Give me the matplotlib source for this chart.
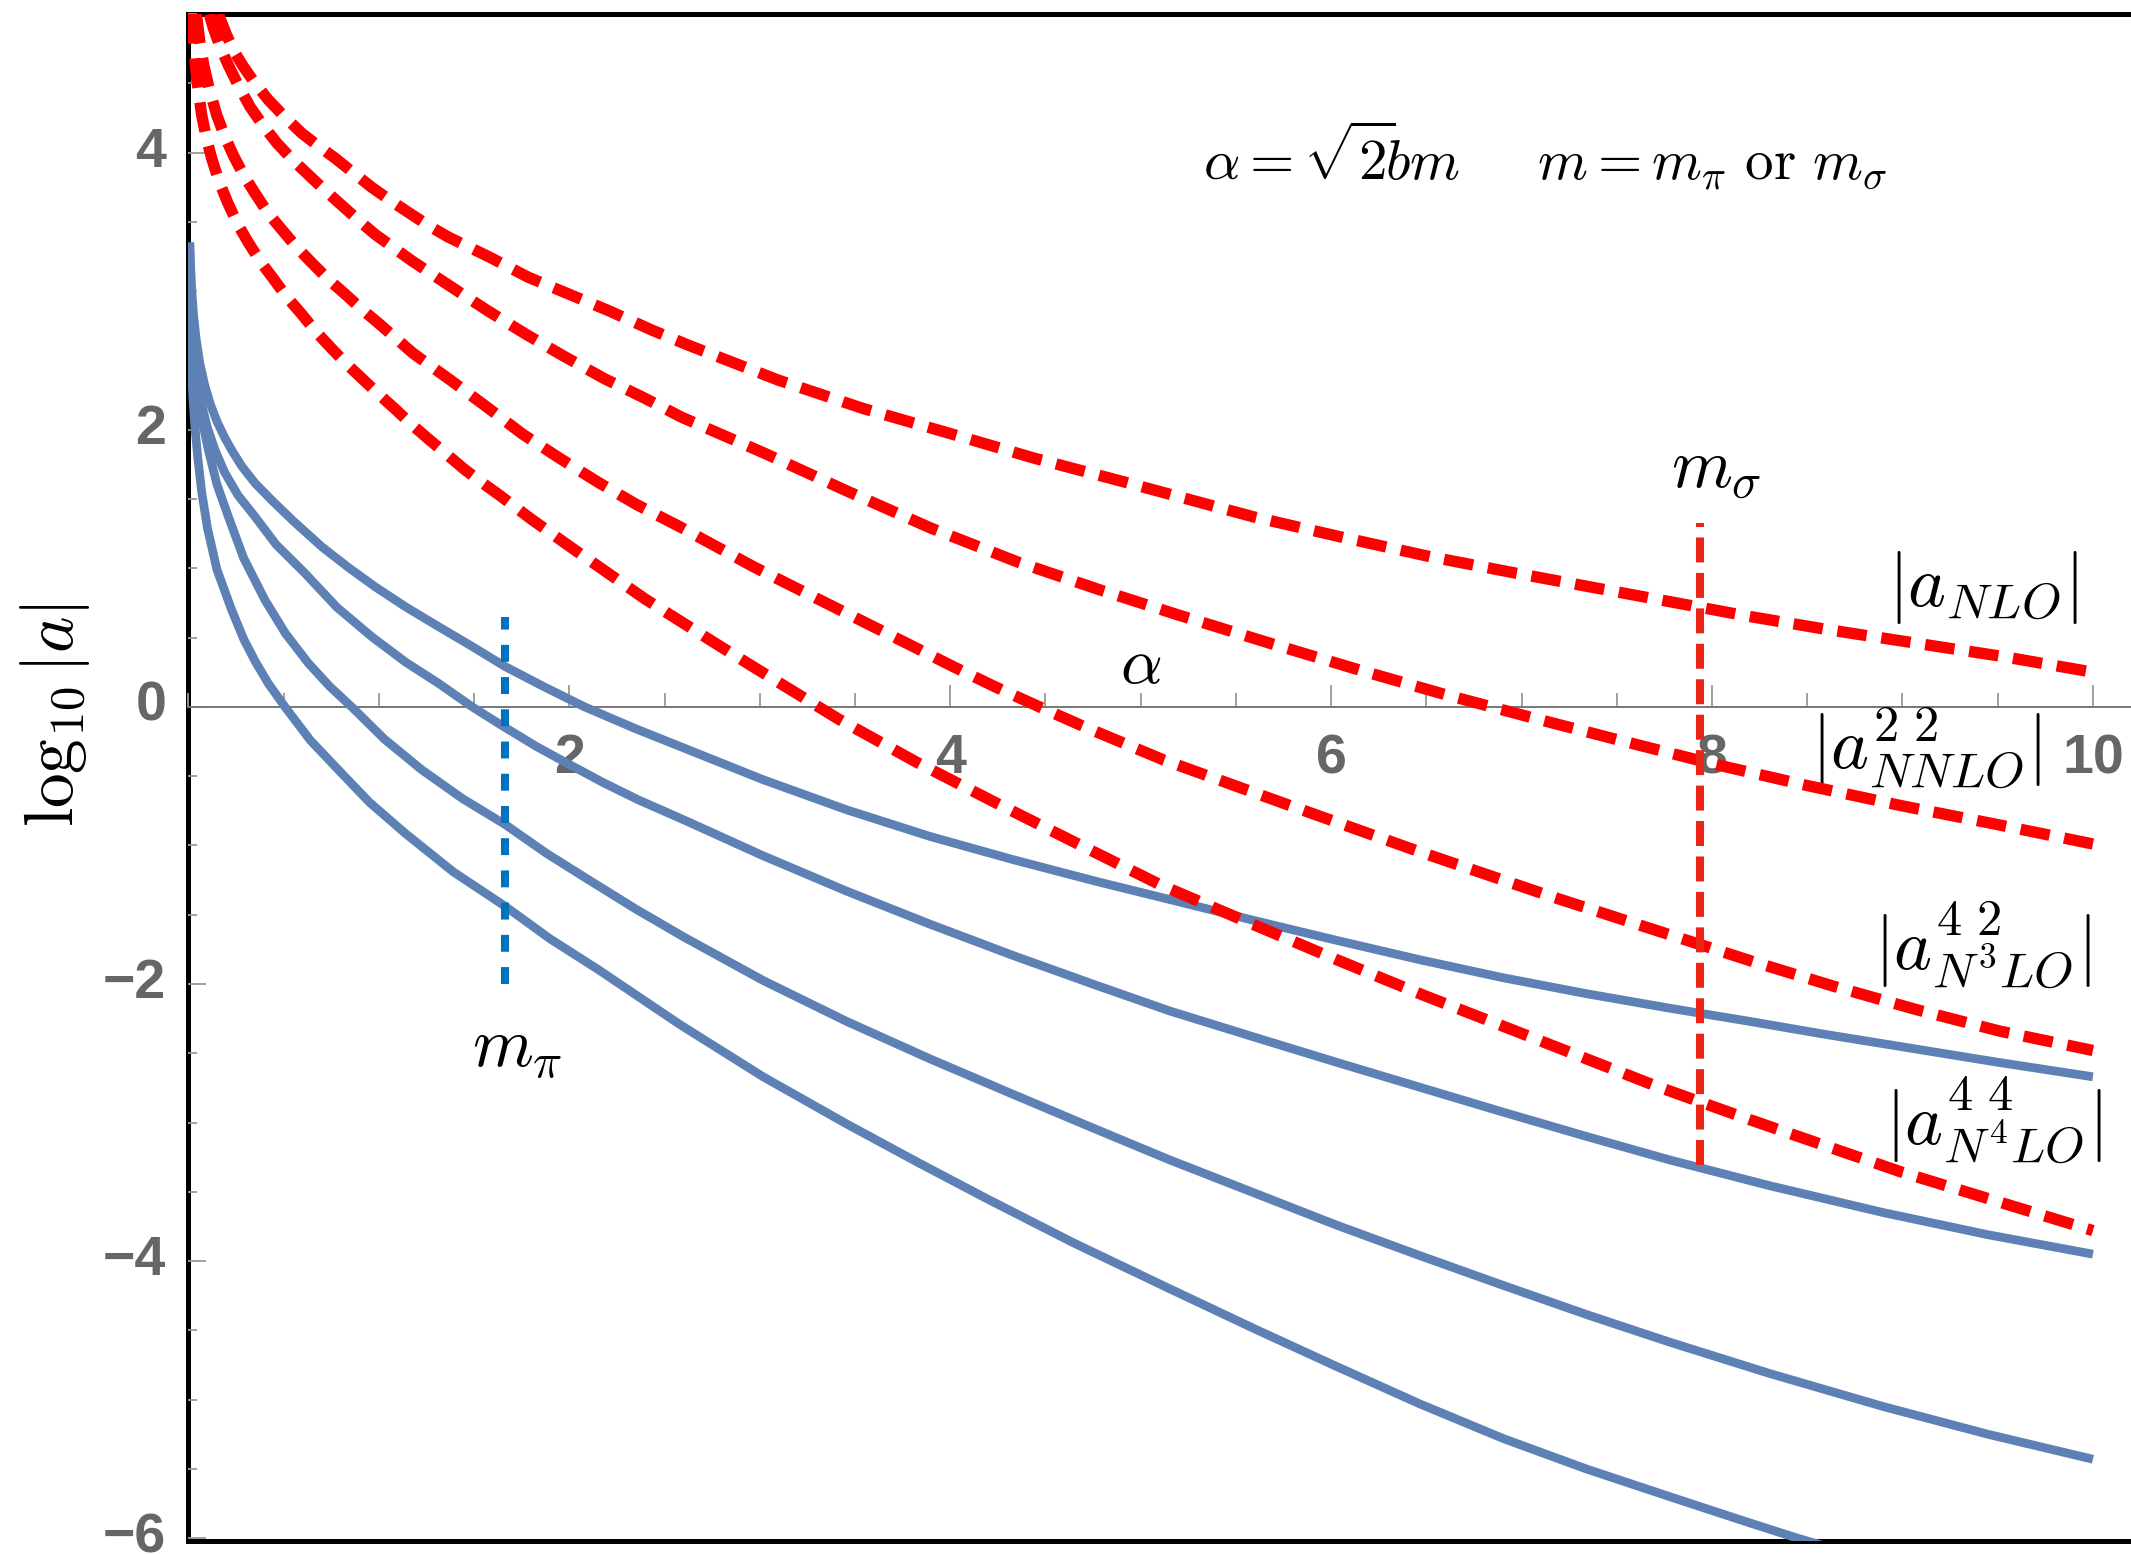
import matplotlib
matplotlib.use("Agg")
import matplotlib.pyplot as plt
from matplotlib.ticker import MultipleLocator

plt.rcParams['mathtext.fontset'] = 'cm'

# log10|a| of the higher-order coefficients (red, dashed) against alpha
nlo_x = [0.157, 0.2, 0.24, 0.289, 0.35, 0.42, 0.5, 0.595, 0.68, 0.77, 0.87, 0.962, 1.06,
         1.164, 1.265, 1.365, 1.47, 1.575, 1.785, 1.995, 2.205, 2.432, 2.625, 3.097, 3.543,
         3.998, 4.445, 4.908, 5.59, 6.045, 6.518, 6.973, 7.445, 7.778, 8.198, 8.618,
         9.073, 9.528, 10.0]
nlo_y = [5.0, 4.85, 4.73, 4.62, 4.50, 4.38, 4.265, 4.14, 4.05, 3.96, 3.85, 3.75, 3.655,
         3.56, 3.47, 3.39, 3.32, 3.25, 3.10, 2.98, 2.86, 2.72, 2.61, 2.358, 2.153,
         1.973, 1.793, 1.625, 1.372, 1.228, 1.084, 0.964, 0.844, 0.759, 0.652, 0.555,
         0.459, 0.363, 0.25]

nnlo_x = [0.11, 0.131, 0.165, 0.21, 0.26, 0.324, 0.39, 0.464, 0.545, 0.63, 0.715, 0.805,
          0.89, 0.98, 1.172, 1.37, 1.57, 1.771, 1.972, 2.182, 2.392, 2.59, 3.027, 3.465,
          3.902, 4.349, 4.786, 5.2, 5.7, 6.15, 6.6, 7.06, 7.5, 8.0, 8.5, 9.0, 9.5, 10.0]
nnlo_y = [5.0, 4.90, 4.77, 4.63, 4.49, 4.33, 4.20, 4.07, 3.95, 3.84, 3.73, 3.62,
          3.515, 3.41, 3.22, 3.04, 2.86, 2.69, 2.53, 2.37, 2.23, 2.09, 1.829, 1.553,
          1.288, 1.048, 0.844, 0.662, 0.45, 0.265, 0.088, -0.08, -0.236, -0.41, -0.568,
          -0.715, -0.85, -0.99]

n3lo_x = [0.042, 0.06, 0.08, 0.11, 0.149, 0.19, 0.236, 0.29, 0.35, 0.42, 0.499, 0.57, 0.651,
          0.735, 0.822, 0.91, 0.997, 1.181, 1.374, 1.561, 1.753, 1.954, 2.152, 2.353, 2.58,
          2.966, 3.386, 3.806, 4.016, 4.243, 4.46, 4.681, 5.118, 5.783, 6.465, 7.148, 7.778,
          8.198, 8.635, 9.073, 9.51, 10.0]
n3lo_y = [5.0, 4.80, 4.635, 4.455, 4.27, 4.12, 3.98, 3.837, 3.706, 3.56, 3.43, 3.315, 3.20,
          3.084, 2.98, 2.87, 2.77, 2.55, 2.36, 2.17, 1.97, 1.79, 1.62, 1.46, 1.30,
          1.012, 0.723, 0.435, 0.29, 0.14, 0.005, -0.13, -0.382, -0.712, -1.046, -1.365, -1.645,
          -1.831, -2.015, -2.185, -2.34, -2.48]

n4lo_x = [0.0195, 0.024, 0.032, 0.045, 0.07, 0.095, 0.122, 0.16, 0.206, 0.26, 0.315, 0.38,
          0.446, 0.515, 0.591, 0.67, 0.749, 0.83, 0.919, 1.0, 1.085, 1.17, 1.263, 1.35, 1.444,
          1.535, 1.631, 1.8, 2.0, 2.396, 2.8, 3.0, 3.412, 3.824, 4.243, 4.672, 5.101, 5.59,
          6.028, 6.483, 6.95, 7.708, 8.2, 9.0, 10.0]
n4lo_y = [5.0, 4.87, 4.71, 4.52, 4.27, 4.10, 3.96, 3.794, 3.64, 3.48, 3.35, 3.21,
          3.09, 2.96, 2.84, 2.707, 2.59, 2.475, 2.36, 2.255, 2.15, 2.04, 1.93, 1.83, 1.72,
          1.625, 1.53, 1.355, 1.16, 0.78, 0.43, 0.26, -0.087, -0.40, -0.695, -0.99, -1.283, -1.57,
          -1.824, -2.08, -2.33, -2.738, -2.98, -3.36, -3.78]

# solid blue curves
b1_x = [0.008, 0.012, 0.018, 0.027, 0.04, 0.06, 0.085, 0.115, 0.15, 0.19, 0.227, 0.28, 0.35,
        0.437, 0.55, 0.7, 0.84, 0.98, 1.14, 1.312, 1.48, 1.664, 1.87, 2.08, 2.35, 2.625,
        3.018, 3.456, 3.893, 4.331, 4.768, 5.18, 5.59, 6.028, 6.465, 6.903, 7.34, 7.778,
        8.198, 8.6, 9.073, 9.5, 10.0]
b1_y = [3.35, 3.17, 3.0, 2.83, 2.66, 2.48, 2.325, 2.185, 2.06, 1.945, 1.853, 1.737, 1.614,
        1.492, 1.342, 1.156, 1.006, 0.867, 0.722, 0.58, 0.444, 0.29, 0.143, 0.0, -0.159, -0.31,
        -0.526, -0.743, -0.935, -1.103, -1.26, -1.40, -1.54, -1.685, -1.825, -1.955, -2.07,
        -2.175, -2.27, -2.365, -2.47, -2.565, -2.67]

b2_x = [0.006, 0.008, 0.011, 0.016, 0.024, 0.035, 0.05, 0.07, 0.1, 0.14, 0.19, 0.26, 0.35,
        0.46, 0.612, 0.78, 0.962, 1.14, 1.312, 1.49, 1.664, 1.83, 2.003, 2.18, 2.362, 2.6,
        3.018, 3.456, 3.893, 4.331, 4.768, 5.153, 5.6, 6.028, 6.465, 6.903, 7.34, 7.778,
        8.3, 8.9, 9.45, 10.0]
b2_y = [3.35, 3.22, 3.07, 2.89, 2.70, 2.52, 2.35, 2.18, 2.014, 1.853, 1.693, 1.528, 1.372,
        1.172, 0.964, 0.718, 0.507, 0.323, 0.171, 0.0, -0.15, -0.288, -0.418, -0.548, -0.671,
        -0.815, -1.075, -1.33, -1.568, -1.795, -2.01, -2.195, -2.385, -2.565, -2.745, -2.925,
        -3.10, -3.27, -3.455, -3.65, -3.81, -3.95]

b3_x = [0.005, 0.0075, 0.011, 0.016, 0.024, 0.035, 0.05, 0.07, 0.105, 0.15, 0.21, 0.29, 0.402,
        0.51, 0.63, 0.74, 0.857, 1.03, 1.225, 1.44, 1.664, 1.88, 2.1, 2.35, 2.6, 3.018, 3.456,
        3.893, 4.331, 4.768, 5.153, 5.6, 6.028, 6.465, 6.903, 7.34, 7.778, 8.3, 8.9, 9.45,
        10.0]
b3_y = [3.35, 3.17, 3.0, 2.83, 2.64, 2.45, 2.26, 2.08, 1.853, 1.605, 1.372, 1.074, 0.771,
        0.529, 0.315, 0.15, 0.0, -0.234, -0.454, -0.663, -0.85, -1.057, -1.247, -1.46, -1.66,
        -1.975, -2.27, -2.54, -2.797, -3.05, -3.27, -3.51, -3.74, -3.96, -4.175, -4.385,
        -4.585, -4.81, -5.05, -5.25, -5.43]

b4_x = [0.0025, 0.0035, 0.005, 0.0075, 0.011, 0.016, 0.024, 0.035, 0.05, 0.07, 0.1, 0.15,
        0.227, 0.29, 0.35, 0.42, 0.507, 0.64, 0.787, 0.95, 1.137, 1.39, 1.664, 1.9, 2.152,
        2.581, 3.018, 3.456, 3.84, 4.2, 4.65, 5.153, 5.6, 6.028, 6.465, 6.903, 7.34, 7.778,
        8.2, 8.45, 8.7]
b4_y = [3.34, 3.17, 3.0, 2.83, 2.635, 2.44, 2.22, 2.01, 1.79, 1.55, 1.29, 0.99,
        0.70, 0.49, 0.33, 0.168, 0.0, -0.241, -0.454, -0.688, -0.911, -1.19, -1.44, -1.675,
        -1.896, -2.293, -2.67, -3.01, -3.295, -3.555, -3.87, -4.2, -4.49, -4.76, -5.03, -5.28,
        -5.50, -5.70, -5.89, -6.0, -6.1]

# pion and sigma mass markers
m_pi_alpha, m_pi_span = 1.664, (0.65, -2.0)
m_sigma_alpha, m_sigma_span = 7.935, (1.33, -3.31)

x_ticks = [2, 4, 6, 8, 10]
y_ticks = [-6, -4, -2, 0, 2, 4]

fig = plt.figure(figsize=(21.31, 15.55), dpi=100)
rect = [0.0884, 0.0090, 0.9116, 0.9820]

# black frame drawn behind everything
frame = fig.add_axes(rect)
frame.set_xticks([])
frame.set_yticks([])
frame.spines['right'].set_visible(False)
for s in ['left', 'top', 'bottom']:
    frame.spines[s].set_linewidth(3.6)
    frame.spines[s].set_color('black')

ax = fig.add_axes(rect, facecolor='none')
ax.set_xlim(0, 10.2)
ax.set_ylim(-6.02, 5.0)
for s in ['left', 'top', 'right']:
    ax.spines[s].set_visible(False)
ax.spines['bottom'].set_position(('data', 0))
ax.spines['bottom'].set_color('#777777')
ax.spines['bottom'].set_linewidth(1.4)

ax.set_xticks(x_ticks)
ax.set_xticklabels([str(t) for t in x_ticks])
ax.xaxis.set_minor_locator(MultipleLocator(0.5))
ax.set_yticks(y_ticks)
ax.set_yticklabels([str(t).replace('-', '\u2212') for t in y_ticks])
ax.yaxis.set_minor_locator(MultipleLocator(0.5))

ax.tick_params(axis='both', which='both', direction='in', color='#999999', width=1.3,
               labelcolor='#666666', labelsize=40)
ax.tick_params(axis='x', which='major', length=16, pad=19)
ax.tick_params(axis='x', which='minor', length=10)
ax.tick_params(axis='y', which='major', length=13, pad=16)
ax.tick_params(axis='y', which='minor', length=6.5)
for lbl in ax.get_xticklabels() + ax.get_yticklabels():
    lbl.set_fontweight('bold')
    lbl.set_family('Liberation Sans')
for lbl in ax.get_yticklabels():
    lbl.set_verticalalignment('center')

blue = '#5e81b5'
for bx, by in [(b1_x, b1_y), (b2_x, b2_y), (b3_x, b3_y), (b4_x, b4_y)]:
    ax.plot(bx, by, color=blue, lw=6.3, solid_capstyle='butt', solid_joinstyle='round',
            zorder=3)

dash = (0, (2.6, 1.3))
for rx, ry in [(nlo_x, nlo_y), (nnlo_x, nnlo_y), (n3lo_x, n3lo_y), (n4lo_x, n4lo_y)]:
    ax.plot(rx, ry, color='red', lw=8.2, linestyle=dash, dash_capstyle='butt',
            dash_joinstyle='round', zorder=4)

ax.vlines(m_pi_alpha, m_pi_span[1], m_pi_span[0], colors='#0072bd', linewidth=5.8,
          linestyles=(0, (2.1, 1.9)), zorder=5)
ax.vlines(m_sigma_alpha, m_sigma_span[1], m_sigma_span[0], colors='#ec2415', linewidth=5.8,
          linestyles=(0, (3.1, 1.3)), zorder=5)

ax.text(5.0, 0.173, r'$\alpha$', fontsize=47, ha='center', va='baseline')
ax.text(5.327, 3.80, r'$\alpha=\sqrt{2}\!bm\quad\;\;m=m_\pi\ \mathrm{or}\ m_\sigma$',
        fontsize=41, ha='left', va='baseline')
ax.text(8.025, 1.59, r'$m_\sigma$', fontsize=50, ha='center', va='baseline')
ax.text(1.725, -2.60, r'$m_\pi$', fontsize=50, ha='center', va='baseline')

ax.text(9.42, 0.86, r'$|a_{NLO}|$', fontsize=52, ha='center', va='center')
ax.text(9.125, -0.30, r'$|a^{2\ 2}_{NNLO}|$', fontsize=52, ha='center', va='center')
ax.text(9.42, -1.72, r'$|a^{4\ 2}_{N^3LO}|$', fontsize=52, ha='center', va='center')
ax.text(9.475, -2.98, r'$|a^{4\ 4}_{N^4LO}|$', fontsize=52, ha='center', va='center')

fig.text(0.026, 0.540, r'$\log_{10}|a|$', fontsize=50, rotation=90, ha='center', va='center')

fig.savefig('out.png', dpi=100)
